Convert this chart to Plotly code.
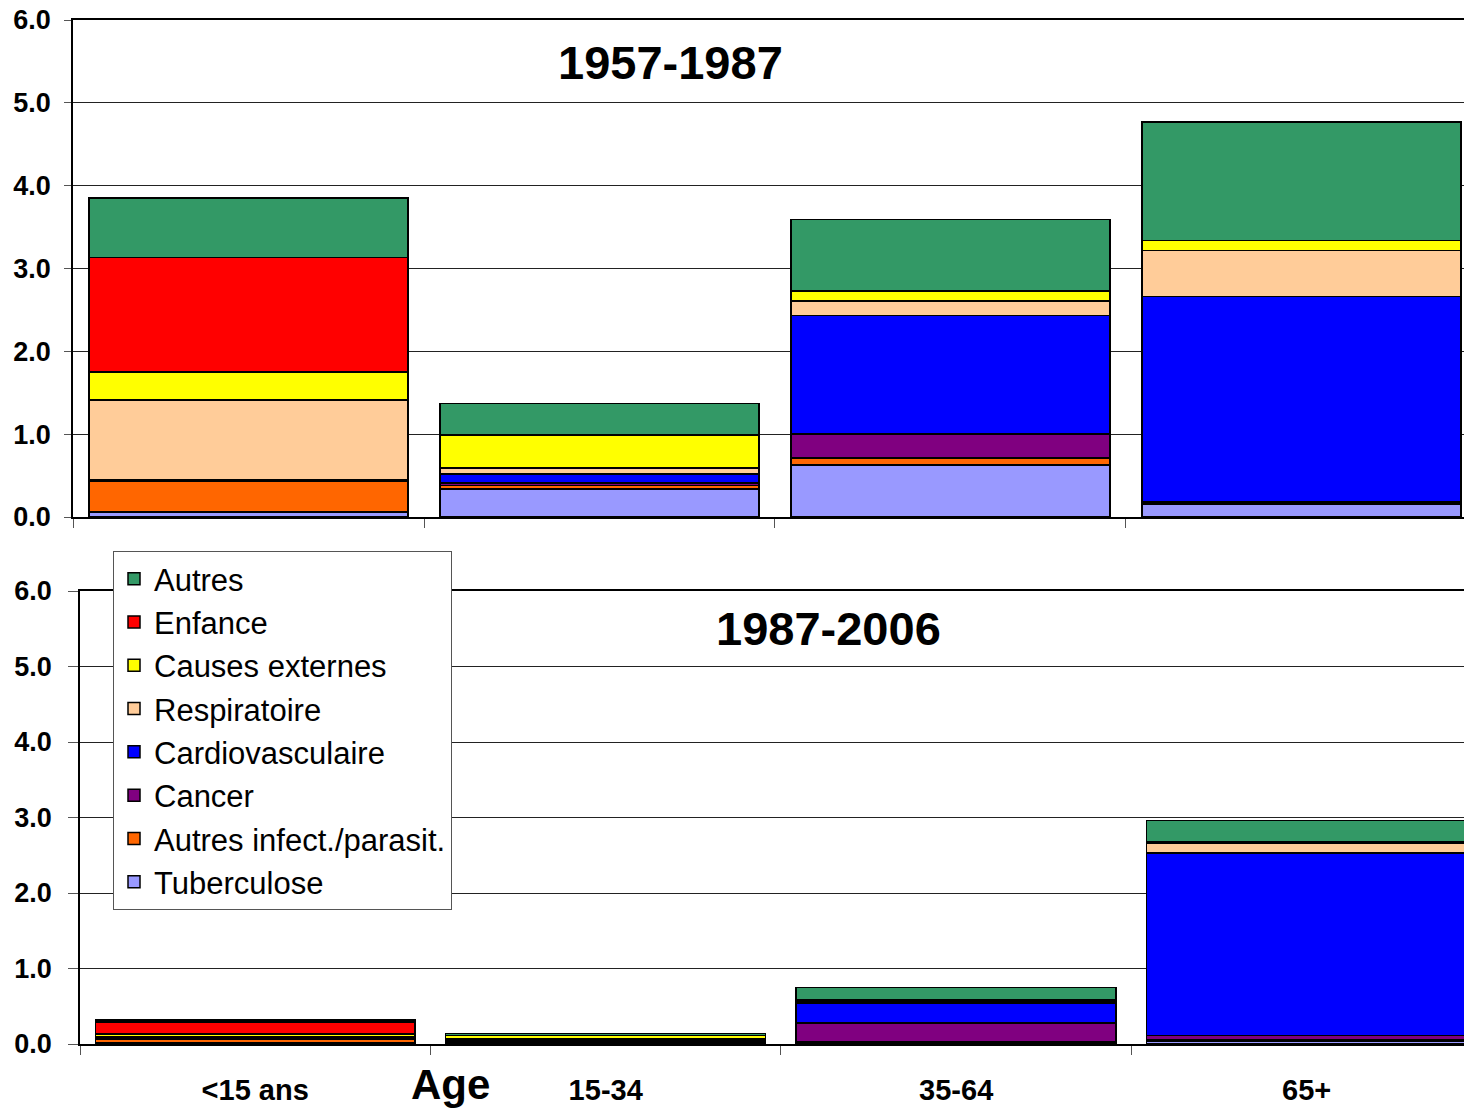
import plotly.graph_objects as go

ages = ["<15 ans", "15-34", "35-64", "65+"]
causes = ["Tuberculose", "Autres infect./parasit.", "Cancer", "Cardiovasculaire",
          "Respiratoire", "Causes externes", "Enfance", "Autres"]
colors = ["#9999FF", "#FF6600", "#800080", "#0000FF",
          "#FFCC99", "#FFFF00", "#FF0000", "#339966"]

# 1957-1987 (per cause, by age group)
p1_tuberculose = [0.06, 0.34, 0.63, 0.16]
p1_infect      = [0.37, 0.04, 0.08, 0.01]
p1_cancer      = [0.01, 0.03, 0.29, 0.01]
p1_cardio      = [0.01, 0.11, 1.43, 2.48]
p1_respir      = [0.96, 0.07, 0.18, 0.56]
p1_externes    = [0.34, 0.40, 0.12, 0.12]
p1_enfance     = [1.38, 0.00, 0.00, 0.00]
p1_autres      = [0.72, 0.38, 0.86, 1.43]

# 1987-2006
p2_tuberculose = [0.02, 0.01, 0.02, 0.03]
p2_infect      = [0.04, 0.01, 0.01, 0.02]
p2_cancer      = [0.01, 0.02, 0.25, 0.06]
p2_cardio      = [0.01, 0.02, 0.26, 2.42]
p2_respir      = [0.01, 0.01, 0.03, 0.13]
p2_externes    = [0.04, 0.04, 0.01, 0.02]
p2_enfance     = [0.16, 0.00, 0.00, 0.00]
p2_autres      = [0.03, 0.03, 0.17, 0.28]

panel1 = [p1_tuberculose, p1_infect, p1_cancer, p1_cardio, p1_respir, p1_externes, p1_enfance, p1_autres]
panel2 = [p2_tuberculose, p2_infect, p2_cancer, p2_cardio, p2_respir, p2_externes, p2_enfance, p2_autres]

yticks = [0, 1, 2, 3, 4, 5, 6]
ytick_text = ["0.0", "1.0", "2.0", "3.0", "4.0", "5.0", "6.0"]

FONT = "Liberation Sans, Arial, sans-serif"
W, H = 1464, 1112


def xp(px):
    return px / W


def yp(py):
    return 1 - py / H


fig = go.Figure()
for name, col, vals in zip(causes, colors, panel1):
    fig.add_trace(go.Bar(x=ages, y=vals, name=name, marker=dict(color=col, line=dict(color="black", width=1.5)),
                         width=0.91, xaxis="x", yaxis="y", showlegend=False))
for name, col, vals in zip(causes, colors, panel2):
    fig.add_trace(go.Bar(x=ages, y=vals, name=name, marker=dict(color=col, line=dict(color="black", width=1.5)),
                         width=0.913, xaxis="x2", yaxis="y2", showlegend=True))

common_x = dict(type="category", categoryorder="array", categoryarray=ages,
                showgrid=False, showline=True, linecolor="black", linewidth=2,
                ticks="outside", tickson="boundaries", ticklen=9, tickcolor="#555", tickwidth=1,
                automargin=False)
common_y = dict(range=[0, 6], tickvals=yticks, ticktext=ytick_text,
                showgrid=True, gridcolor="#222", gridwidth=1,
                showline=True, linecolor="black", linewidth=1.5,
                ticks="outside", tickcolor="#555", ticklabeloverflow="allow",
                tickfont=dict(family=FONT, size=27, color="black", weight="bold"),
                zeroline=False, automargin=False)

fig.update_layout(
    width=W, height=H,
    margin=dict(l=0, r=0, t=0, b=0),
    paper_bgcolor="white", plot_bgcolor="white",
    barmode="stack", bargap=0.09,
    font=dict(family=FONT, color="black"),
    xaxis=dict(**common_x, domain=[xp(73), 1], range=[-0.5, 3.463], showticklabels=False,
               anchor="y", mirror=True),
    yaxis=dict(**common_y, domain=[yp(517), yp(20)], anchor="x", ticklen=7, ticklabelstandoff=8),
    xaxis2=dict(**common_x, domain=[xp(80), 1], range=[-0.5, 3.449], showticklabels=True, anchor="y2",
                mirror=True,
                tickfont=dict(family=FONT, size=29, color="black", weight="bold"), ticklabelstandoff=19),
    yaxis2=dict(**common_y, domain=[yp(1044), yp(591)], anchor="x2", ticklen=10, ticklabelstandoff=11),
    legend=dict(x=xp(113), y=yp(551), xanchor="left", yanchor="top",
                traceorder="reversed", bgcolor="white", bordercolor="#555", borderwidth=1,
                font=dict(family=FONT, size=31, color="black"), itemwidth=30, tracegroupgap=0),
    annotations=[
        dict(text="1957-1987", x=xp(670), y=yp(63), xref="paper", yref="paper", showarrow=False,
             xanchor="center", yanchor="middle",
             font=dict(family=FONT, size=47, color="black", weight="bold")),
        dict(text="1987-2006", x=xp(828), y=yp(628), xref="paper", yref="paper", showarrow=False,
             xanchor="center", yanchor="middle",
             font=dict(family=FONT, size=47, color="black", weight="bold")),
        dict(text="Age", x=xp(450), y=yp(1084), xref="paper", yref="paper", showarrow=False,
             xanchor="center", yanchor="middle",
             font=dict(family=FONT, size=42, color="black", weight="bold")),
    ],
)

fig.write_html(
    "out.html",
    config={"displayModeBar": False},
    post_script="document.documentElement.style.overflow='hidden';"
                "document.body.style.margin='0';document.body.style.overflow='hidden';",
)
